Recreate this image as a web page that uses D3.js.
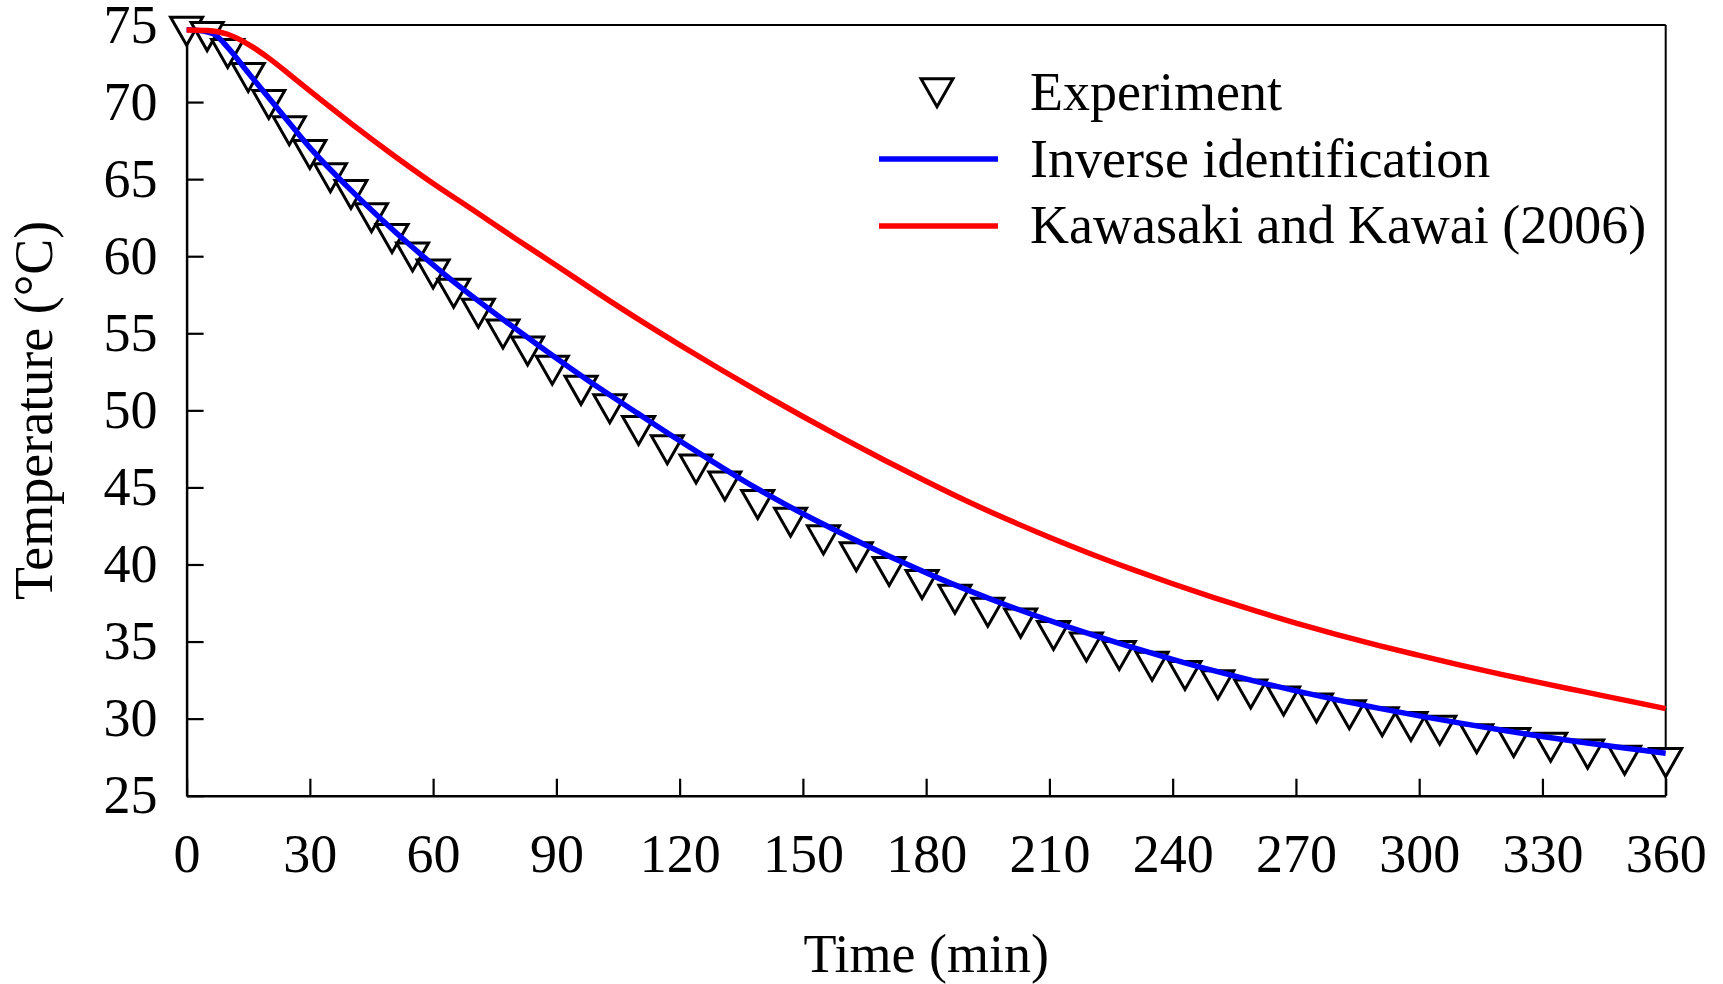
<!DOCTYPE html>
<html>
<head>
<meta charset="utf-8">
<script src="https://cdn.jsdelivr.net/npm/d3@7"></script>
<style>
  body { margin: 0; background: #fff; }
  text { font-family: "Liberation Serif", "Times New Roman", serif; fill: #000; }
</style>
</head>
<body>
<script>
// experiment (triangles)
const expTime = [0, 5, 10, 15, 20, 25, 30, 35, 40, 45, 50, 55, 60, 65, 71, 77, 83, 89, 96, 103,
  110, 117, 124, 131, 139, 147, 155, 163, 171, 179, 187, 195, 203, 211, 219, 227, 235, 243,
  251, 259, 267, 275, 283, 291, 298, 305, 314, 323, 332, 341, 350, 360];
const expTemp = [74.9, 74.55, 73.45, 71.9, 70.15, 68.45, 66.9, 65.4, 64.3, 62.8, 61.45, 60.25,
  59.15, 57.9, 56.6, 55.25, 54.15, 52.9, 51.6, 50.4, 49.0, 47.75, 46.5, 45.4, 44.2, 43.05,
  41.9, 40.8, 39.85, 39.0, 38.05, 37.2, 36.5, 35.7, 34.95, 34.4, 33.7, 33.1, 32.5, 31.9,
  31.45, 31.0, 30.55, 30.1, 29.8, 29.55, 29.0, 28.75, 28.45, 28.0, 27.6, 27.45];

// inverse identification (blue)
const invTime = [0, 4, 7, 10, 15, 19, 23, 27, 31, 39, 47, 55, 63, 71, 78, 85, 93, 101, 110,
  118, 126, 134, 142, 150, 158, 166, 174, 182, 190, 198, 206, 214, 222, 230, 240, 250, 260,
  270, 280, 290, 300, 310, 320, 330, 340, 350, 360];
const invTemp = [74.7, 74.6, 74.35, 73.55, 71.9, 70.6, 69.3, 68.0, 66.75, 64.55, 62.5, 60.58,
  58.78, 57.1, 55.7, 54.34, 52.82, 51.35, 49.77, 48.37, 47.01, 45.69, 44.45, 43.29, 42.21,
  41.17, 40.17, 39.23, 38.35, 37.52, 36.74, 36.0, 35.3, 34.64, 33.85, 33.11, 32.43, 31.8,
  31.22, 30.68, 30.18, 29.71, 29.26, 28.84, 28.45, 28.09, 27.76];

// Kawasaki and Kawai (2006) (red)
const kkTime = [0, 5, 10, 15, 20, 25, 30, 40, 50, 60, 70, 80, 90, 100, 110, 120, 130, 140, 150,
  160, 170, 180, 190, 200, 210, 220, 230, 240, 250, 260, 270, 280, 290, 300, 310, 320, 330,
  340, 350, 360];
const kkTemp = [74.68, 74.64, 74.4, 73.75, 72.85, 71.8, 70.72, 68.62, 66.62, 64.72, 62.95,
  61.15, 59.4, 57.62, 55.9, 54.25, 52.65, 51.1, 49.6, 48.15, 46.75, 45.4, 44.1, 42.9, 41.77,
  40.7, 39.7, 38.75, 37.85, 37.0, 36.2, 35.45, 34.75, 34.1, 33.47, 32.87, 32.3, 31.75, 31.2,
  30.65];

const xTicks = [0, 30, 60, 90, 120, 150, 180, 210, 240, 270, 300, 330, 360];
const yTicks = [25, 30, 35, 40, 45, 50, 55, 60, 65, 70, 75];
const legendLabels = ['Experiment', 'Inverse identification', 'Kawasaki and Kawai (2006)'];

const W = 1723, H = 984;
const margin = { left: 186.6, right: 57.3, top: 25, bottom: 188.3 };
const innerW = W - margin.left - margin.right;
const innerH = H - margin.top - margin.bottom;
const FONT = 54;

const svg = d3.select('body').append('svg')
  .attr('width', W)
  .attr('height', H);

const g = svg.append('g')
  .attr('transform', `translate(${margin.left},${margin.top})`);

const x = d3.scaleLinear().domain([0, 360]).range([0, innerW]);
const y = d3.scaleLinear().domain([25, 75]).range([innerH, 0]);

// frame: top and right edges
g.append('line')
  .attr('x1', x(0)).attr('x2', x(360)).attr('y1', y(75)).attr('y2', y(75))
  .attr('stroke', '#000').attr('stroke-width', 2);
g.append('line')
  .attr('x1', x(360)).attr('x2', x(360)).attr('y1', y(75)).attr('y2', y(25))
  .attr('stroke', '#000').attr('stroke-width', 2);

const xAxis = d3.axisBottom(x)
  .tickValues(xTicks)
  .tickSizeInner(-17)
  .tickSizeOuter(0)
  .tickPadding(38)
  .tickFormat(d3.format('d'));
const yAxis = d3.axisLeft(y)
  .tickValues(yTicks)
  .tickSizeInner(-17)
  .tickSizeOuter(0)
  .tickPadding(29)
  .tickFormat(d3.format('d'));

const xAxisG = g.append('g')
  .attr('transform', `translate(0,${innerH})`)
  .call(xAxis);
const yAxisG = g.append('g').call(yAxis);

[xAxisG, yAxisG].forEach(ax => {
  ax.select('.domain').attr('stroke', '#000').attr('stroke-width', 2.5);
  ax.selectAll('.tick line').attr('stroke', '#000').attr('stroke-width', 2.2);
  ax.selectAll('.tick text')
    .style('font-family', '"Liberation Serif", serif')
    .style('font-size', FONT + 'px')
    .attr('fill', '#000');
});

// axis labels
g.append('text')
  .attr('x', innerW / 2)
  .attr('y', 972 - margin.top)
  .attr('text-anchor', 'middle')
  .style('font-size', FONT + 'px')
  .text('Time (min)');

g.append('text')
  .attr('transform', `translate(${52 - margin.left},${innerH / 2}) rotate(-90)`)
  .attr('text-anchor', 'middle')
  .style('font-size', FONT + 'px')
  .text('Temperature (°C)');

// downward triangle, centroid on the data point
const triW = 32, triH = 28;
const triPath = `M${-triW / 2},${-triH / 3}L${triW / 2},${-triH / 3}L0,${2 * triH / 3}Z`;

const expData = expTime.map((t, i) => ({ t, v: expTemp[i] }));
g.selectAll('path.exp').data(expData)
  .enter().append('path')
  .attr('class', 'exp')
  .attr('d', triPath)
  .attr('transform', d => `translate(${x(d.t)},${y(d.v)})`)
  .attr('fill', '#fff')
  .attr('stroke', '#000')
  .attr('stroke-width', 3);

const line = d3.line()
  .x(d => x(d.t))
  .y(d => y(d.v))
  .curve(d3.curveMonotoneX);

const invData = invTime.map((t, i) => ({ t, v: invTemp[i] }));
const kkData = kkTime.map((t, i) => ({ t, v: kkTemp[i] }));

g.append('path').datum(invData)
  .attr('d', line)
  .attr('fill', 'none')
  .attr('stroke', '#0000ff')
  .attr('stroke-width', 5.5);

g.append('path').datum(kkData)
  .attr('d', line)
  .attr('fill', 'none')
  .attr('stroke', '#ff0000')
  .attr('stroke-width', 5.5);

// legend
const legend = svg.append('g');
const rows = [110, 176.5, 243];

legend.append('path')
  .attr('d', triPath)
  .attr('transform', `translate(937,88)`)
  .attr('fill', '#fff')
  .attr('stroke', '#000')
  .attr('stroke-width', 3);
legend.append('line')
  .attr('x1', 879).attr('x2', 998).attr('y1', 159).attr('y2', 159)
  .attr('stroke', '#0000ff').attr('stroke-width', 5.5);
legend.append('line')
  .attr('x1', 879).attr('x2', 998).attr('y1', 226).attr('y2', 226)
  .attr('stroke', '#ff0000').attr('stroke-width', 5.5);

legend.selectAll('text.lbl').data(legendLabels)
  .enter().append('text')
  .attr('class', 'lbl')
  .attr('x', 1030)
  .attr('y', (d, i) => rows[i])
  .style('font-size', FONT + 'px')
  .text(d => d);
</script>
</body>
</html>
